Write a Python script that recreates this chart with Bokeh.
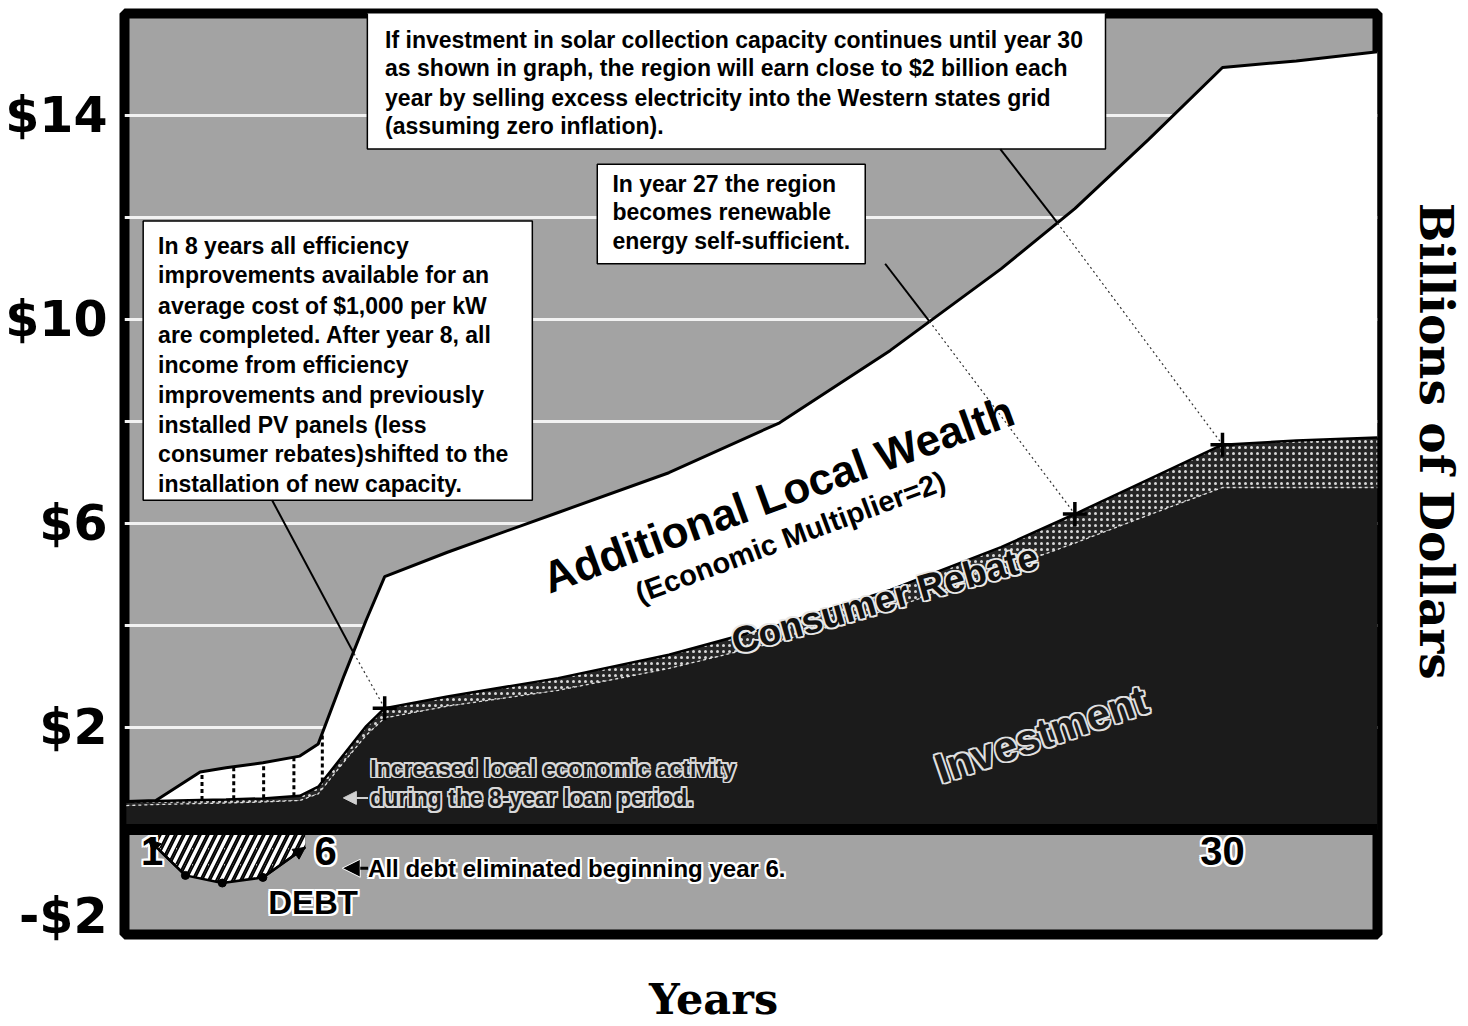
import numpy as np
from bokeh.plotting import figure
from bokeh.models import (Range1d, FixedTicker, LinearAxis, Span, Arrow, NormalHead,
                          ColumnDataSource, Grid)
from bokeh.core.properties import value
from bokeh.embed import file_html
from bokeh.resources import INLINE

# ---------------- data (years, billions of dollars) ----------------
years = [0.3, 1.1, 2.3, 3.0, 4.0, 5.0, 5.5, 6.2, 6.8, 7.3, 9, 12, 15, 18, 21, 24, 26, 28, 30, 32, 34.2]
total_wealth = [0.55, 0.57, 1.13, 1.21, 1.31, 1.44, 1.68, 3.02, 4.11, 4.96, 5.44, 6.22, 7.00, 7.98,
                9.40, 11.0, 12.18, 13.54, 14.95, 15.08, 15.26]
rebate_top = [0.55, 0.56, 0.58, 0.59, 0.61, 0.66, 0.84, 1.48, 2.03, 2.38, 2.61, 2.97, 3.43, 4.02,
              4.70, 5.54, 6.19, 6.87, 7.55, 7.63, 7.69]
investment = [0.47, 0.49, 0.51, 0.52, 0.54, 0.57, 0.70, 1.33, 1.85, 2.19, 2.42, 2.73, 3.16, 3.69,
              4.33, 5.09, 5.62, 6.17, 6.71, 6.71, 6.71]

debt_years = [0.9, 1.9, 2.9, 4.0, 5.15]
debt_values = [-0.2, -0.9, -1.05, -0.94, -0.35]

income_bar_years = [2.35, 3.21, 4.02, 4.84, 5.61]
milestone_years = [7.3, 26, 30]

ytick_values = [14, 10, 6, 2, -1.7]
ytick_labels = ["$14", "$10", "$6", "$2", "-$2"]
xtick_years = [1, 6, 30]
xtick_labels = ["1", "6", "30"]
grid_values = [2, 4, 6, 8, 10, 12, 14]

box_a_lines = ["If investment in solar collection capacity continues until year 30",
               "as shown in graph, the region will earn close to $2 billion each",
               "year by selling excess electricity into the Western states grid",
               "(assuming zero inflation)."]
box_b_lines = ["In year 27 the region", "becomes renewable", "energy self-sufficient."]
box_c_lines = ["In 8 years all efficiency", "improvements available for an",
               "average cost of $1,000 per kW", "are completed. After year 8, all",
               "income from efficiency", "improvements and previously",
               "installed PV panels (less", "consumer rebates)shifted to the",
               "installation of new capacity."]

SANS = "Liberation Sans"
NBSP = "\u00a0"

p = figure(width=1466, height=1026, x_range=Range1d(0.25, 34.2), y_range=Range1d(-2.06, 16.01),
           output_backend="svg", toolbar_location=None,
           min_border_left=124, min_border_right=89, min_border_top=13, min_border_bottom=86,
           background_fill_color="#a3a3a3", border_fill_color="white",
           outline_line_color="black", outline_line_width=10)

p.grid.visible = False
p.add_layout(Grid(dimension=1, ticker=FixedTicker(ticks=grid_values),
                  grid_line_color="#f2f2f2", grid_line_width=3))

# y axis
p.yaxis.ticker = FixedTicker(ticks=ytick_values)
p.yaxis.major_label_overrides = {v: l for v, l in zip(ytick_values, ytick_labels)}
p.yaxis.major_label_text_font = "DejaVu Sans"
p.yaxis.major_label_text_font_style = "bold"
p.yaxis.major_label_text_font_size = "49px"
p.yaxis.major_label_text_color = "black"
p.yaxis.major_label_standoff = 17
p.yaxis.major_tick_out = 0
p.yaxis.major_tick_in = 0
p.yaxis.major_tick_line_color = None
p.yaxis.minor_tick_line_color = None
p.yaxis.axis_line_color = None

# x axis (title only; trailing no-break spaces nudge the centred title left)
p.xaxis.ticker = FixedTicker(ticks=[])
p.xaxis.axis_label = "Years" + NBSP * 5
p.xaxis.axis_label_text_font = "DejaVu Serif"
p.xaxis.axis_label_text_font_style = "bold"
p.xaxis.axis_label_text_font_size = "43px"
p.xaxis.axis_label_text_color = "black"
p.xaxis.axis_label_standoff = 39
p.xaxis.major_tick_out = 0
p.xaxis.major_tick_in = 0
p.xaxis.major_label_standoff = 0
p.xaxis.axis_line_color = None
p.xaxis.major_tick_line_color = None
p.xaxis.minor_tick_line_color = None

right = LinearAxis(ticker=FixedTicker(ticks=[]),
                   axis_label="Billions of Dollars" + NBSP * 4,
                   axis_label_text_font="DejaVu Serif", axis_label_text_font_style="bold",
                   axis_label_text_font_size="47px", axis_label_text_color="black",
                   axis_label_standoff=31, axis_line_color=None,
                   major_tick_out=0, major_tick_in=0, major_label_standoff=0,
                   major_tick_line_color=None, minor_tick_line_color=None)
p.add_layout(right, "right")

# ---------------- areas ----------------
p.varea(x=years, y1=0, y2=investment, fill_color="#1b1b1b")
p.varea(x=years, y1=investment, y2=rebate_top, fill_color="#262626",
        hatch_pattern="dot", hatch_color="#d8d8d8", hatch_scale=6, hatch_weight=1.5)
p.varea(x=years, y1=rebate_top, y2=total_wealth, fill_color="white")

p.line(years, investment, line_color="#e0e0e0", line_width=1.3, line_dash="3 3")
p.line(years, rebate_top, line_color="black", line_width=2.5)
p.line(years, total_wealth, line_color="black", line_width=3)

# annual income bars (dotted) in early years
bar_lo = np.interp(income_bar_years, years, rebate_top)
bar_hi = np.interp(income_bar_years, years, total_wealth)
p.segment(x0=income_bar_years, y0=bar_lo, x1=income_bar_years, y1=bar_hi,
          line_color="black", line_width=3, line_dash="4 3")

# debt
p.varea(x=debt_years, y1=0, y2=debt_values, fill_alpha=0,
        hatch_pattern="/", hatch_color="black", hatch_weight=7, hatch_scale=16)
p.varea(x=debt_years, y1=0, y2=debt_values, fill_alpha=0,
        hatch_pattern="/", hatch_color="white", hatch_weight=3.5, hatch_scale=16)
p.line(debt_years, debt_values, line_color="black", line_width=2.5)
p.scatter(debt_years[1:4], debt_values[1:4], size=8, color="black")
p.add_layout(Arrow(end=NormalHead(size=12, fill_color="black", line_color="black"),
                   x_start=debt_years[1], y_start=debt_values[1],
                   x_end=debt_years[0], y_end=debt_values[0], line_width=2.5))
p.add_layout(Arrow(end=NormalHead(size=12, fill_color="black", line_color="black"),
                   x_start=debt_years[3], y_start=debt_values[3],
                   x_end=debt_years[4], y_end=debt_values[4], line_width=2.5))

p.add_layout(Span(location=0, dimension="width", line_color="black", line_width=11))

# milestones
mile_vals = np.interp(milestone_years, years, rebate_top)

# ---------------- callout boxes ----------------
p.quad(left=[6.83, 13.06, 0.756], right=[26.83, 20.32, 11.30],
       top=[16.3, 13.05, 11.94], bottom=[13.35, 11.10, 6.46],
       fill_color="white", line_color="black", line_width=1.5)

def box_text(x, ys, lines):
    p.text(x=[x] * len(lines), y=ys, text=lines, text_font=value(SANS), text_font_style="bold",
           text_font_size="23px", text_color="black", text_align="left", text_baseline="middle")

box_text(7.31, [15.49, 14.95, 14.36, 13.80], box_a_lines)
box_text(13.47, [12.66, 12.12, 11.55], box_b_lines)
box_text(1.16, [11.45, 10.87, 10.28, 9.70, 9.11, 8.53, 7.94, 7.36, 6.77], box_c_lines)

# connectors
sx0 = [4.25, 20.86, 23.98]
sy0 = [6.46, 11.10, 13.35]
sx1 = [6.47, 22.06, 25.53]
sy1 = [3.45, 9.97, 11.90]
p.segment(x0=sx0, y0=sy0, x1=sx1, y1=sy1, line_color="black", line_width=2)
p.segment(x0=sx1, y0=sy1, x1=milestone_years, y1=mile_vals, line_color="#333333",
          line_width=1.2, line_dash="2 3")
p.scatter(milestone_years, mile_vals, marker="cross", size=24, line_width=3.5, line_color="black")

# ---------------- texts ----------------
def outlined(x, y, txt, size, angle=0.0, fill="black", edge="white", align="left", w=1.6,
             font=SANS):
    src = ColumnDataSource(dict(x=[x], y=[y], t=[txt]))
    kw = dict(x="x", y="y", text="t", source=src, angle=angle, text_font=value(font),
              text_font_style="bold", text_font_size=f"{size}px", text_align=align,
              text_baseline="middle")
    for dx, dy in [(-w, 0), (w, 0), (0, -w), (0, w), (-w, -w), (w, w), (-w, w), (w, -w)]:
        p.text(x_offset=dx, y_offset=dy, text_color=edge, **kw)
    p.text(text_color=fill, **kw)

p.text(x=[17.96], y=[6.58], text=["Additional Local Wealth"], angle=np.radians(20),
       text_font=value(SANS), text_font_style="bold", text_font_size="44px",
       text_color="black", text_align="center", text_baseline="middle")
p.text(x=[18.29], y=[5.74], text=["(Economic Multiplier=2)"], angle=np.radians(20.4),
       text_font=value(SANS), text_font_style="bold", text_font_size="29px",
       text_color="black", text_align="center", text_baseline="middle")

outlined(20.85, 4.52, "Consumer Rebate", 37, angle=np.radians(16), fill="#111111",
         edge="#e8e8e8", align="center")
outlined(25.09, 1.87, "Investment", 42, angle=np.radians(19), fill="#1b1b1b",
         edge="#e0e0e0", align="center")
outlined(6.91, 1.19, "Increased local economic activity", 23, fill="#1b1b1b", edge="#d8d8d8")
outlined(6.91, 0.62, "during the 8-year loan period.", 23, fill="#1b1b1b", edge="#d8d8d8")
p.add_layout(Arrow(end=NormalHead(size=13, fill_color="#d0d0d0", line_color="#d0d0d0"),
                   x_start=6.85, y_start=0.62, x_end=6.18, y_end=0.62,
                   line_color="#d0d0d0", line_width=2))

for xv, lab, al in zip(xtick_years, xtick_labels, ["center", "right", "center"]):
    outlined(xv, -0.42, lab, 40, align=al, w=2)

outlined(5.36, -1.44, "DEBT", 33, align="center", w=2)
outlined(6.85, -0.76, "All debt eliminated beginning year 6.", 24, w=1.8)
p.add_layout(Arrow(end=NormalHead(size=18, fill_color="black", line_color="white", line_width=1),
                   x_start=6.85, y_start=-0.76, x_end=6.15, y_end=-0.76,
                   line_color="black", line_width=3))

open("out.html", "w").write(file_html(p, INLINE))
